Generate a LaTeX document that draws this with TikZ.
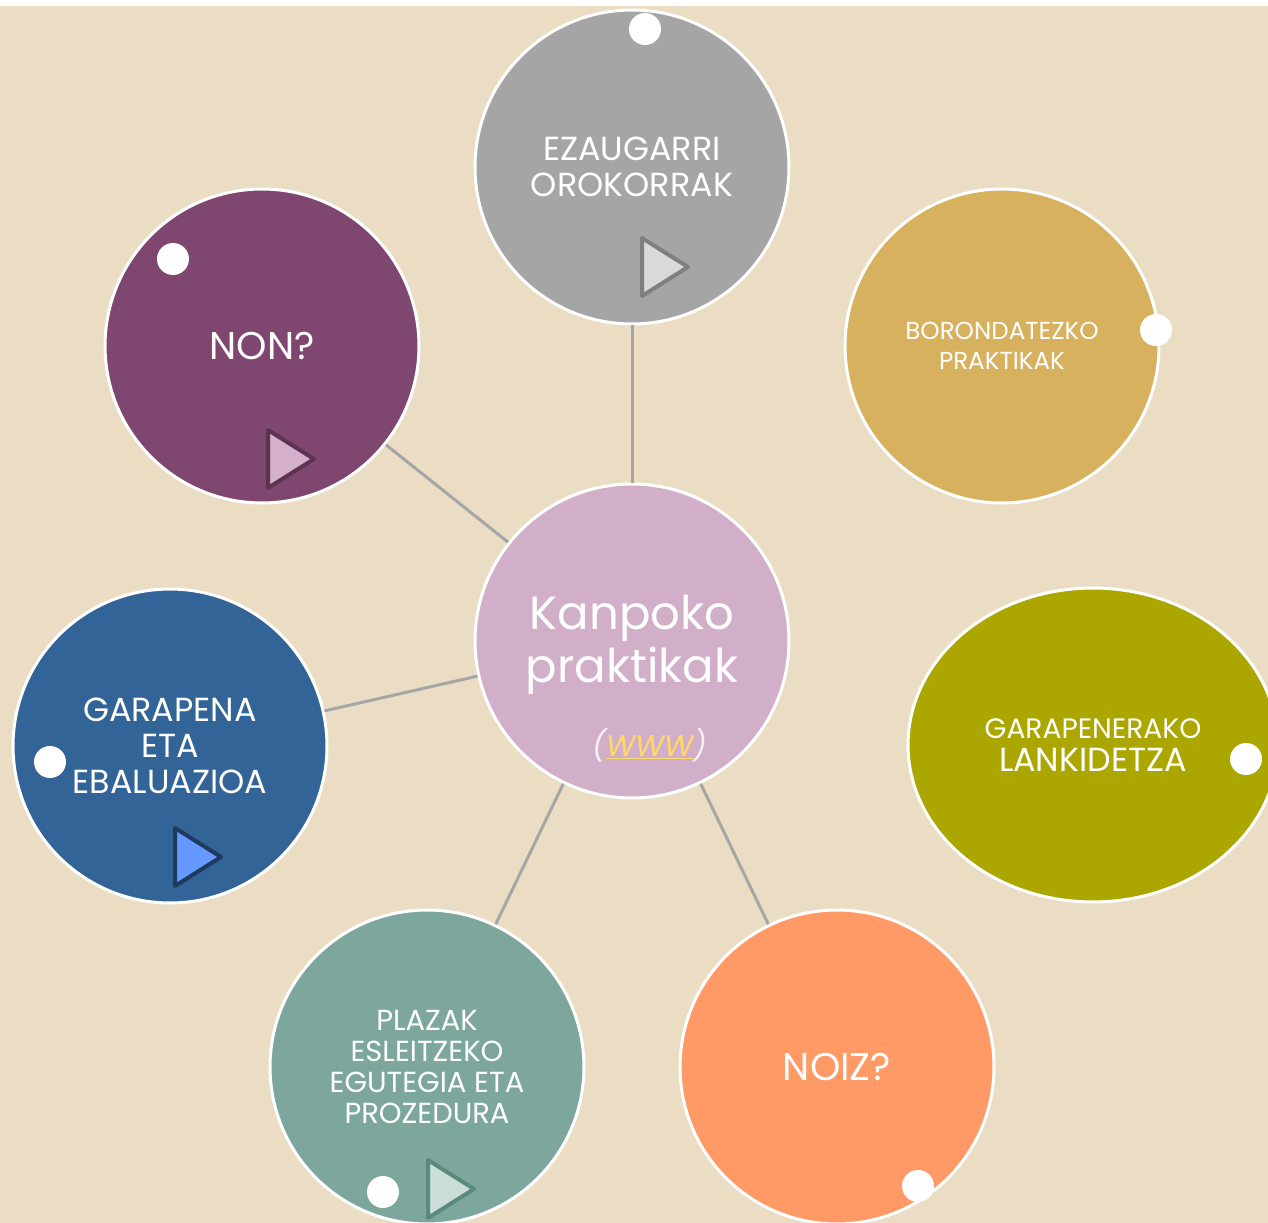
\documentclass[tikz,border=0pt]{standalone}
\usepackage{fontspec}
\setmainfont{Poppins}
\usetikzlibrary{shapes.geometric,positioning,calc}

\definecolor{bgbeige}{HTML}{EADDC4}
\definecolor{linkgray}{HTML}{A6A6A6}
\definecolor{hubpink}{HTML}{D2AFC8}
\definecolor{topgray}{HTML}{A5A5A5}
\definecolor{gold}{HTML}{D7B15E}
\definecolor{plum}{HTML}{7F476F}
\definecolor{steel}{HTML}{336497}
\definecolor{olive}{HTML}{ACA700}
\definecolor{coral}{HTML}{FF9966}
\definecolor{sage}{HTML}{7DA79C}
\definecolor{wwwyellow}{HTML}{FFD966}

\begin{document}
\begin{tikzpicture}[x=0.02cm, y=-0.02cm,
    bubble/.style={circle, draw=white, line width=0.06cm, minimum size=6.28cm,
      inner sep=0pt, text=white, align=center},
    oval/.style={ellipse, draw=white, line width=0.06cm, minimum width=7.4cm,
      minimum height=6.28cm, inner sep=0pt, text=white, align=center},
    dot/.style={circle, fill=white, minimum size=0.64cm, inner sep=0pt},
    link/.style={draw=linkgray, line width=0.06cm},
    playbtn/.style={line width=0.08cm, line join=round}]

    % Page and background
    \useasboundingbox (0,0) rectangle (1268,1223);
    \fill[white] (0,0) rectangle (1268,1223);
    \fill[bgbeige] (0,6) rectangle (1268,1223);
    \clip (0,0) rectangle (1268,1223);

    % Central bubble
    \node[bubble, fill=hubpink] (hub) at (632,641) {};
    \node[text=white, align=center, font=\fontsize{26.5}{30.5}\selectfont] (hubtext) at (632,645)
        {Kanpoko\\praktikak};
    \node[font=\itshape\fontsize{17}{20}\selectfont] (www) at (650,745)
        {\textcolor{white!80!hubpink}{(}\textcolor{wwwyellow}{\underline{WWW}}\textcolor{white!80!hubpink}{)}};

    % Outer bubbles
    \node[bubble, fill=topgray, font=\fontsize{19}{20.5}\selectfont] (general) at (632,167)
        {EZAUGARRI\\OROKORRAK};
    \node[bubble, fill=gold, font=\fontsize{14}{17}\selectfont] (volunteer) at (1002,346)
        {BORONDATEZKO\\PRAKTIKAK};
    \node[bubble, fill=plum, font=\fontsize{22}{25}\selectfont] (where) at (262,346)
        {NON?};
    \node[bubble, fill=steel, font=\fontsize{19}{20.5}\selectfont] (evaluation) at (170,746)
        {GARAPENA\\ETA\\EBALUAZIOA};
    \node[oval, fill=olive, font=\fontsize{16}{19}\selectfont] (cooperation) at (1093,745)
        {GARAPENERAKO\\{\fontsize{19}{19}\selectfont LANKIDETZA}};
    \node[bubble, fill=sage, font=\fontsize{16.5}{17.6}\selectfont] (places) at (427,1067)
        {PLAZAK\\ESLEITZEKO\\EGUTEGIA ETA\\PROZEDURA};
    \node[bubble, fill=coral, font=\fontsize{22}{25}\selectfont] (when) at (837,1067)
        {NOIZ?};

    % Connectors
    \draw[link] (hub) -- (general);
    \draw[link] (hub) -- (where);
    \draw[link] (hub) -- (evaluation);
    \draw[link] (hub) -- (places);
    \draw[link] (hub) -- (when);

    % White dots
    \node[dot] (generaldot) at (645,29) {};
    \node[dot] (volunteerdot) at (1156,330) {};
    \node[dot] (wheredot) at (173,259) {};
    \node[dot] (evaluationdot) at (50,762) {};
    \node[dot] (cooperationdot) at (1246,759) {};
    \node[dot] (placesdot) at (383,1192) {};
    \node[dot] (whendot) at (918,1186) {};

    % Play buttons
    \foreach \x/\y/\inner/\outer in {642/238/D9D9D9/7F7F7F, 268/430/D4B0CB/5E3253,
                                     175/828/6699FF/1F3A5F, 428/1160/CADDD9/5B8A7D}{
        \definecolor{playfill}{HTML}{\inner}
        \definecolor{playline}{HTML}{\outer}
        \filldraw[playbtn, fill=playfill, draw=playline]
            (\x,\y) -- (\x,\y+58) -- (\x+46,\y+29) -- cycle;
    }
\end{tikzpicture}
\end{document}
